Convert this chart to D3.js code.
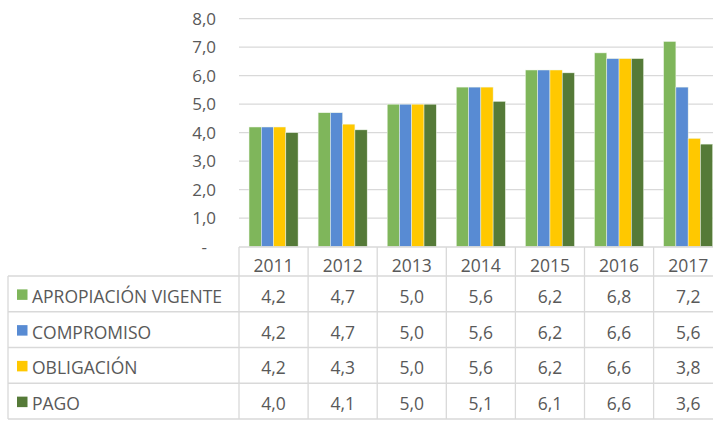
<!DOCTYPE html>
<html><head><meta charset="utf-8">
<script src="https://cdn.jsdelivr.net/npm/d3@7"></script>
<style>body{margin:0;background:#fff}svg{display:block}text{font-family:"Open Sans","Noto Sans",sans-serif;fill:#595959}</style>
</head><body><svg id="c" width="713" height="421"></svg>
<script>
const years = ["2011","2012","2013","2014","2015","2016","2017"];
const seriesNames = ["APROPIACIÓN VIGENTE","COMPROMISO","OBLIGACIÓN","PAGO"];
const apropiacion = [4.2,4.7,5.0,5.6,6.2,6.8,7.2];
const compromiso = [4.2,4.7,5.0,5.6,6.2,6.6,5.6];
const obligacion = [4.2,4.3,5.0,5.6,6.2,6.6,3.8];
const pago = [4.0,4.1,5.0,5.1,6.1,6.6,3.6];
const yTicks = [0,1,2,3,4,5,6,7,8];
const colors = ["#7fb65b","#588bd3","#ffc800","#557a38"];
const seriesValues = [apropiacion, compromiso, obligacion, pago];

const svg = d3.select("#c");
const fmt = v => v === 0 ? "-" : v.toFixed(1).replace(".", ",");
const x0 = d3.scaleBand().domain(years).range([239, 722.7]).padding(0);
const bw = x0.bandwidth();
const x1 = d3.scaleBand().domain(seriesNames).range([bw*0.145, bw*0.855]).padding(0);
const y = d3.scaleLinear().domain([0, 8]).range([246.7, 18.7]);

// gridlines
svg.append("g").selectAll("line").data(yTicks.filter(d=>d>0)).join("line")
  .attr("x1", 239).attr("x2", 713).attr("y1", d=>y(d)).attr("y2", d=>y(d))
  .attr("stroke", "#d9d9d9").attr("stroke-width", 1.3);

// y axis labels
const yAxis = d3.axisLeft(y).tickValues(yTicks).tickFormat(fmt).tickSize(0).tickPadding(0);
const ga = svg.append("g").attr("transform", "translate(216,0)").call(yAxis);
ga.select(".domain").remove();
ga.selectAll("text").attr("font-size", 17).attr("fill", "#595959")
  .style("font-family", '"Open Sans","Noto Sans",sans-serif');
ga.selectAll(".tick").filter(d=>d===0).select("text").attr("dx", -9);

// bars
const groups = svg.append("g").selectAll("g").data(years).join("g")
  .attr("transform", d=>`translate(${x0(d)},0)`);
groups.selectAll("rect").data((d,i)=>seriesNames.map((s,j)=>({s, j, v: seriesValues[j][i]}))).join("rect")
  .attr("x", d=>x1(d.s)).attr("width", x1.bandwidth())
  .attr("y", d=>y(d.v)).attr("height", d=>y(0)-y(d.v))
  .attr("fill", d=>colors[d.j]).attr("stroke", "#eef5e8").attr("stroke-width", 0.5);

// table
const rowTop = 276, rowH = 35.75, tableLeft = 8;
const lines = svg.append("g").attr("stroke", "#d9d9d9").attr("stroke-width", 1.3);
lines.append("line").attr("x1", 239).attr("x2", 713).attr("y1", 247).attr("y2", 247);
for (let i = 0; i <= seriesNames.length; i++) {
  lines.append("line").attr("x1", tableLeft).attr("x2", 713)
    .attr("y1", rowTop + i*rowH).attr("y2", rowTop + i*rowH);
}
lines.append("line").attr("x1", tableLeft).attr("x2", tableLeft).attr("y1", rowTop).attr("y2", rowTop + 4*rowH);
years.forEach(yr => {
  lines.append("line").attr("x1", x0(yr)).attr("x2", x0(yr)).attr("y1", 247).attr("y2", rowTop + 4*rowH);
});
// header
svg.append("g").selectAll("text").data(years).join("text")
  .attr("x", d=>x0(d)+bw/2).attr("y", 272).attr("text-anchor", "middle").attr("font-size", 17.5).text(d=>d);
// rows
seriesNames.forEach((s, j) => {
  const cy = rowTop + j*rowH + rowH/2;
  svg.append("rect").attr("x", 17).attr("y", cy-4.5).attr("width", 10.5).attr("height", 10.5).attr("fill", colors[j]);
  svg.append("text").attr("x", 32).attr("y", cy+9).attr("font-size", 17.5).text(s);
  svg.append("g").selectAll("text").data(years).join("text")
    .attr("x", d=>x0(d)+bw/2).attr("y", cy+9).attr("text-anchor", "middle").attr("font-size", 17.5)
    .text((d,i)=>fmt(seriesValues[j][i]));
});
</script></body></html>
